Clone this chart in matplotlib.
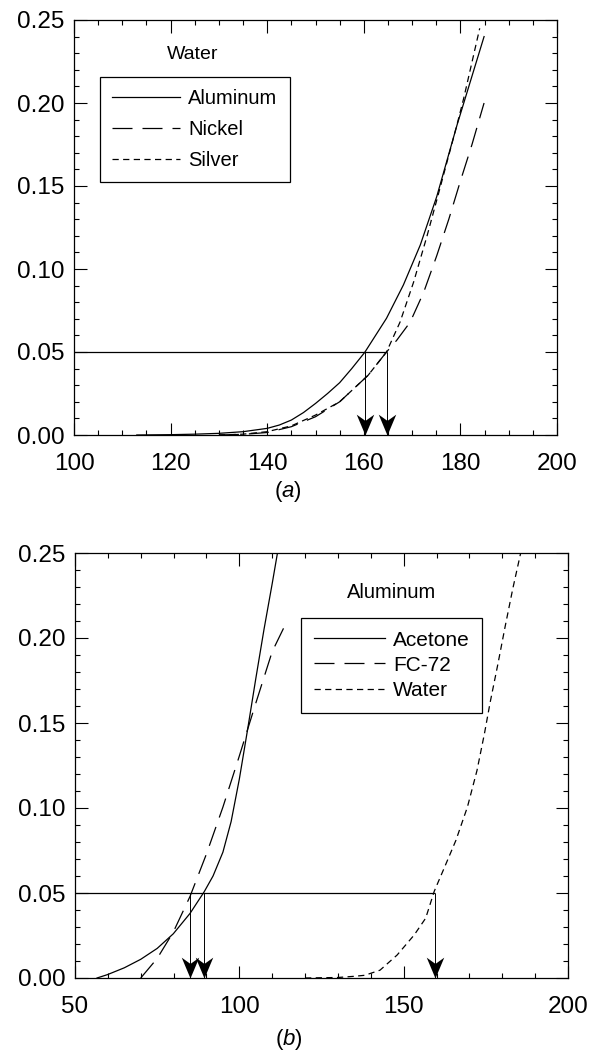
import matplotlib
matplotlib.use("Agg")
import matplotlib.pyplot as plt
from matplotlib.path import Path

plt.rcParams['font.family'] = ['Liberation Sans', 'DejaVu Sans']
plt.rcParams['mathtext.fontset'] = 'custom'
plt.rcParams['mathtext.rm'] = 'Liberation Sans'
plt.rcParams['mathtext.it'] = 'Liberation Sans:italic'

# ---- panel (a): water, three wall materials ----
al_x = [113, 120, 125, 130, 135, 140, 142.5, 145, 147.5, 150, 152.5, 155, 157.5, 160.2, 164.7, 168.2, 171.7, 175.1, 179.3, 184.9]
al_y = [0.0, 0.0002, 0.0005, 0.001, 0.002, 0.004, 0.006, 0.009, 0.0135, 0.019, 0.025, 0.0315, 0.040, 0.0498, 0.0703, 0.0904, 0.1145, 0.1436, 0.1867, 0.240]

ni_x = [130, 135, 140, 145, 150, 155, 160.9, 164.7, 166.8, 169.6, 172.4, 175.1, 177.6, 180.0, 182.4, 184.9]
ni_y = [0.0, 0.0004, 0.0015, 0.005, 0.011, 0.020, 0.036, 0.050, 0.057, 0.068, 0.086, 0.108, 0.130, 0.153, 0.175, 0.200]

ag_x = [130, 135, 140, 145, 150, 155, 160.9, 164.7, 167.5, 170.3, 173.1, 175.8, 179.3, 180.7, 184.0]
ag_y = [0.0, 0.0005, 0.002, 0.0055, 0.012, 0.020, 0.036, 0.050, 0.068, 0.092, 0.120, 0.149, 0.187, 0.203, 0.245]

arrows_a_x = [160.2, 164.7]
level = 0.05

# ---- panel (b): aluminum wall, three fluids ----
ac_x = [56.7, 59.9, 65.0, 70.0, 75.0, 79.9, 85.0, 89.3, 92.0, 95.0, 97.5, 100.0, 102.5, 105.0, 107.5, 110.0, 111.6]
ac_y = [0.0, 0.002, 0.006, 0.011, 0.0174, 0.026, 0.038, 0.0507, 0.060, 0.074, 0.092, 0.117, 0.146, 0.176, 0.205, 0.232, 0.25]

fc_x = [70.0, 75.0, 79.9, 85.0, 90.0, 95.0, 99.9, 104.9, 110.0, 113.9]
fc_y = [0.0, 0.0115, 0.027, 0.048, 0.073, 0.1005, 0.130, 0.161, 0.192, 0.2075]

wa_x = [120, 130, 135, 138.2, 142.8, 148.0, 153.2, 156.7, 159.3, 162.4, 165.9, 169.4, 172.3, 174.6, 176.3, 178.6, 180.9, 183.2, 185.6]
wa_y = [0.0, 0.0003, 0.001, 0.0016, 0.0046, 0.0135, 0.0253, 0.0352, 0.051, 0.065, 0.081, 0.1006, 0.122, 0.144, 0.162, 0.184, 0.207, 0.229, 0.25]

arrows_b_x = [85.0, 89.3, 159.4]

LONG = (0, (16, 8))
SHORT = (0, (5, 3.5))
LW = 0.9

# notched arrowhead, tip at the data point
head = Path([(0, 0), (-0.42, 1), (0, 0.7), (0.42, 1), (0, 0)],
            [Path.MOVETO, Path.LINETO, Path.LINETO, Path.LINETO, Path.CLOSEPOLY])


def style_axes(ax, xlim, xmaj, xmin):
    ax.set_xlim(*xlim)
    ax.set_ylim(0, 0.25)
    ax.set_xticks(range(xlim[0], xlim[1] + 1, xmaj))
    ax.set_xticks(range(xlim[0], xlim[1] + 1, xmin), minor=True)
    ax.set_yticks([0, 0.05, 0.10, 0.15, 0.20, 0.25])
    ax.set_yticks([i / 100 for i in range(26)], minor=True)
    ax.set_yticklabels(['0.00', '0.05', '0.10', '0.15', '0.20', '0.25'])
    ax.tick_params(which='both', direction='in', top=True, right=True, width=0.8)
    ax.tick_params(which='major', length=9, labelsize=17.5)
    ax.tick_params(which='minor', length=3.5)
    ax.tick_params(axis='x', which='major', pad=13)
    ax.tick_params(axis='y', which='major', pad=7)
    for s in ax.spines.values():
        s.set_linewidth(0.9)


def draw_arrows(ax, xs, x_left):
    ax.hlines(level, x_left, max(xs), color='k', lw=LW)
    ax.vlines(xs, 0, level, color='k', lw=0.7)
    ax.plot(xs, [0] * len(xs), ls='none', marker=head, ms=30, color='k',
            mew=0, clip_on=False, zorder=5)


fig = plt.figure(figsize=(5.96, 10.59), dpi=100)

ax1 = fig.add_axes([74 / 596, 1 - 435 / 1059, 483 / 596, 415 / 1059])
ax1.plot(al_x, al_y, color='k', lw=LW, label='Aluminum')
ax1.plot(ni_x, ni_y, color='k', lw=LW, ls=LONG, label='Nickel')
ax1.plot(ag_x, ag_y, color='k', lw=LW, ls=SHORT, label='Silver')
draw_arrows(ax1, arrows_a_x, 100)
style_axes(ax1, (100, 200), 20, 5)
ax1.text(124.6, 0.229, 'Water', fontsize=14, ha='center', va='center')
leg = ax1.legend(loc='upper left', bbox_to_anchor=(0.053, 0.863), borderaxespad=0,
                 fontsize=14.5, handlelength=3.4, handletextpad=0.4,
                 labelspacing=0.6, borderpad=0.6, fancybox=False,
                 edgecolor='k', framealpha=1)
leg.get_frame().set_linewidth(0.9)
fig.text(0.483, 1 - 491 / 1059, r'($\it{a}$)', fontsize=16, ha='center', va='center')

ax2 = fig.add_axes([75 / 596, 1 - 978 / 1059, 493 / 596, 425 / 1059])
ax2.plot(ac_x, ac_y, color='k', lw=LW, label='Acetone')
ax2.plot(fc_x, fc_y, color='k', lw=LW, ls=LONG, label='FC-72')
ax2.plot(wa_x, wa_y, color='k', lw=LW, ls=SHORT, label='Water')
draw_arrows(ax2, arrows_b_x, 50)
style_axes(ax2, (50, 200), 50, 10)
ax2.text(146.3, 0.227, 'Aluminum', fontsize=14.5, ha='center', va='center')
leg = ax2.legend(loc='upper left', bbox_to_anchor=(0.459, 0.847), borderaxespad=0,
                 fontsize=15, handlelength=3.4, handletextpad=0.4,
                 labelspacing=0.3, borderpad=0.6, fancybox=False,
                 edgecolor='k', framealpha=1)
leg.get_frame().set_linewidth(0.9)
fig.text(0.485, 1 - 1040 / 1059, r'($\it{b}$)', fontsize=16, ha='center', va='center')

fig.savefig('out.png', dpi=100)
